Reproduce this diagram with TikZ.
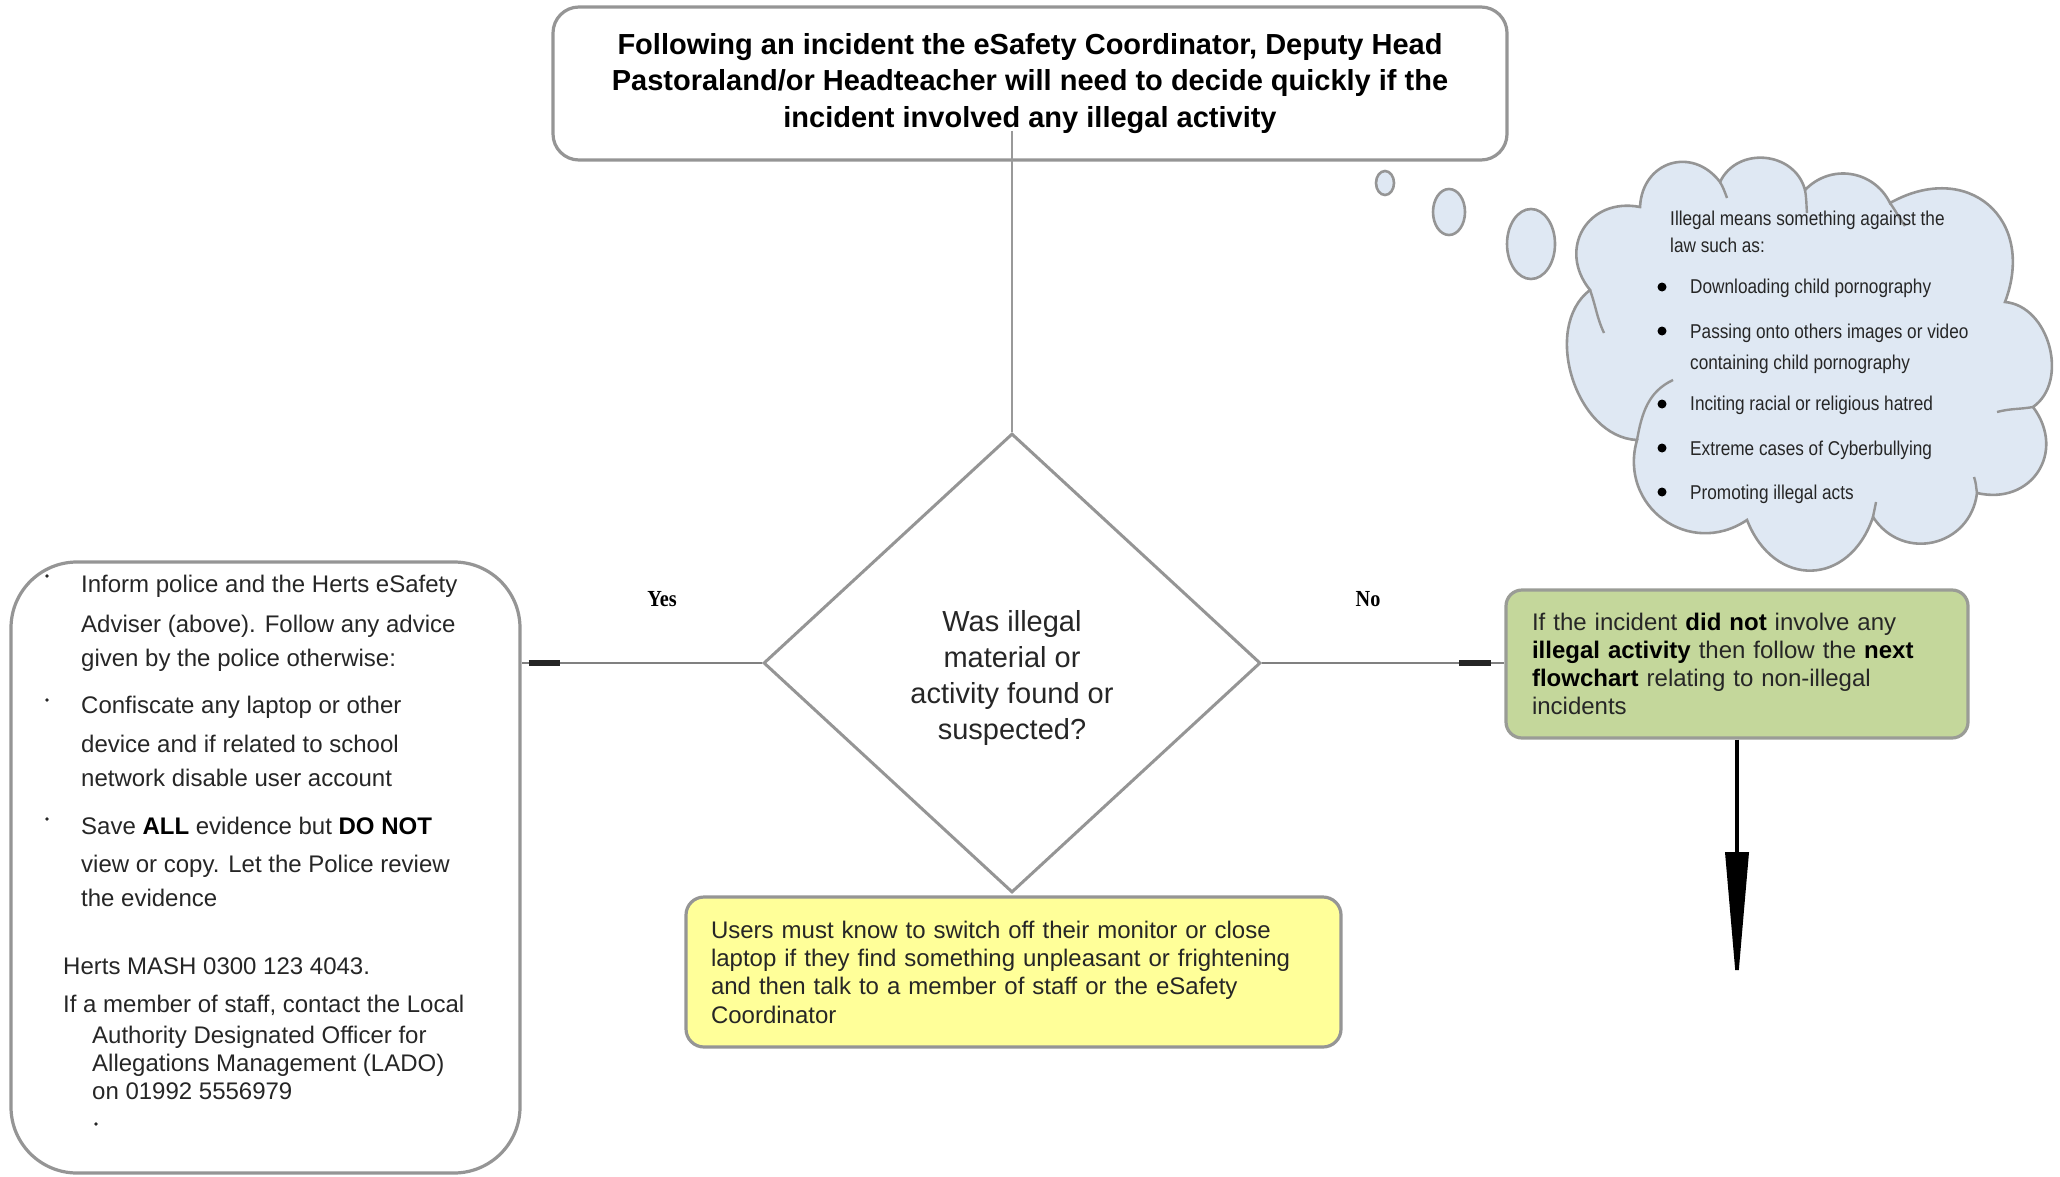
\documentclass[tikz,border=0pt]{standalone}
\usepackage{fontspec}
\setmainfont{Liberation Sans}
\newfontfamily\serifbold[FakeStretch=0.88]{Liberation Serif}
\newfontfamily\narrowfont[FakeStretch=0.86]{Liberation Sans}
\usetikzlibrary{shapes.geometric,arrows.meta,calc}
\definecolor{bordergray}{HTML}{959595}
\definecolor{linegray}{HTML}{808080}
\definecolor{textdark}{HTML}{262626}
\definecolor{cloudblue}{HTML}{DFE8F3}
\definecolor{notegreen}{HTML}{C4D79B}
\definecolor{noteyellow}{HTML}{FFFF99}
\tikzset{
  boxbase/.style={draw=bordergray, line width=3.2pt, rectangle},
  lefttext/.style={anchor=base west, inner sep=0pt, text=textdark, font=\fontsize{24}{28}\selectfont},
  cloudtext/.style={anchor=base west, inner sep=0pt, text=textdark, font=\narrowfont\fontsize{20}{24}\selectfont},
  branchlabel/.style={inner sep=0pt, font=\serifbold\bfseries\fontsize{23}{26}\selectfont},
  connline/.style={draw=linegray, line width=2.6pt},
  markseg/.style={draw=black!85, line width=6pt},
  bubble/.style={draw=bordergray, line width=2.6pt, fill=cloudblue, ellipse, inner sep=0pt},
  puff/.style={bend left=70, looseness=#1},
  innerarc/.style={draw=bordergray, line width=2.4pt},
}
\begin{document}
\begin{tikzpicture}[x=1pt,y=-1pt]
\useasboundingbox (0,0) rectangle (2060,1177);

% top box
\node[boxbase, rounded corners=26pt, minimum width=954pt, minimum height=153pt, align=center,
      font=\bfseries\fontsize{29}{36.5}\selectfont, text=black] (top) at (1030,83.5)
  {Following an incident the eSafety Coordinator, Deputy Head\\
   Pastoraland/or Headteacher will need to decide quickly if the\\
   incident involved any illegal activity};

% diamond
\node[diamond, draw=bordergray, line width=3pt, minimum width=497pt, minimum height=459pt, inner sep=0pt] (dia) at (1012,663) {};
\node[align=center, inner sep=0pt, text=textdark, font=\fontsize{29}{36}\selectfont] (diatext) at (1012,678)
  {Was illegal\\ material or\\ activity found or\\ suspected?};

\coordinate (topstart) at (1012,131);
\draw[draw=linegray!80, line width=1.2pt] (topstart) -- (dia.north);

% left box
\node[boxbase, rounded corners=66pt, minimum width=509pt, minimum height=611pt, fill=white] (leftbox) at (265.5,867.5) {};
\fill[textdark] (47,576) circle (1.8);
\fill[textdark] (47,700) circle (1.8);
\fill[textdark] (47,819) circle (1.8);
\node[lefttext] (l1) at (81,592) {Inform police and the Herts eSafety};
\node[lefttext] (l2) at (81,632) {Adviser (above). Follow any advice};
\node[lefttext] (l3) at (81,666) {given by the police otherwise:};
\node[lefttext] (l4) at (81,713) {Confiscate any laptop or other};
\node[lefttext] (l5) at (81,752) {device and if related to school};
\node[lefttext] (l6) at (81,786) {network disable user account};
\node[lefttext] (l7) at (81,834) {Save \textbf{\color{black}ALL} evidence but \textbf{\color{black}DO NOT}};
\node[lefttext] (l8) at (81,872) {view or copy. Let the Police review};
\node[lefttext] (l9) at (81,906) {the evidence};
\node[lefttext] (l10) at (63,974) {Herts MASH 0300 123 4043.};
\node[lefttext] (l11) at (63,1012) {If a member of staff, contact the Local};
\node[lefttext] (l12) at (92,1043) {Authority Designated Officer for};
\node[lefttext] (l13) at (92,1071) {Allegations Management (LADO)};
\node[lefttext] (l14) at (92,1099) {on 01992 5556979};
\fill[textdark] (96,1124) circle (1.8);

% green box
\node[boxbase, draw=bordergray!90!notegreen, fill=notegreen, rounded corners=16pt, minimum width=462pt, minimum height=148pt,
      text width=410pt, inner xsep=26pt, align=left, text=textdark, font=\fontsize{24}{28}\selectfont] (green) at (1737,664)
  {If the incident \textbf{\color{black}did not} involve any\\
   \textbf{\color{black}illegal activity} then follow the \textbf{\color{black}next}\\
   \textbf{\color{black}flowchart} relating to non-illegal\\
   incidents};

% yellow box
\node[boxbase, fill=noteyellow, rounded corners=18pt, minimum width=655pt, minimum height=150pt,
      text width=605pt, inner xsep=25pt, align=left, text=textdark, font=\fontsize{24}{28.3}\selectfont] (yellow) at (1013.5,972)
  {Users must know to switch off their monitor or close\\
   laptop if they find something unpleasant or frightening\\
   and then talk to a member of staff or the eSafety\\
   Coordinator};

% connectors
\draw[connline] (dia.west) -- (dia.west -| leftbox.east);
\draw[markseg] ($(dia.west -| leftbox.east)+(7,0)$) -- ++(31,0);
\draw[connline] (dia.east) -- (dia.east -| green.west);
\draw[markseg] ($(dia.east -| green.west)+(-45,0)$) -- ++(32,0);
\node[branchlabel] (yes) at (662,599) {Yes};
\node[branchlabel] (no) at (1368,599) {No};

\coordinate (nextflow) at (1737,992);
\draw[black, line width=3.6pt, -{Triangle[length=140pt,width=23pt]}] (green.south) -- (nextflow);

% thought bubbles
\node[bubble, minimum width=18pt, minimum height=24pt] (b1) at (1385,183) {};
\node[bubble, minimum width=32pt, minimum height=46pt] (b2) at (1449,212) {};
\node[bubble, minimum width=48pt, minimum height=70pt] (b3) at (1531,244) {};

% cloud
\path[draw=bordergray, line width=2.6pt, fill=cloudblue]
  (1590,290) to[puff=1.4] (1640,207) to[puff=1.4] (1720,182) to[puff=1.2] (1805,190)
  to[bend left=55, looseness=1.1] (1890,203) to[puff=1.5] (2005,302) to[puff=1.05] (2033,407)
  to[puff=1.4] (1977,493) to[puff=1.3] (1873,517) to[puff=1.5] (1747,520)
  to[puff=1.3] (1637,440) to[puff=1.0] (1590,290) -- cycle;
\draw[innerarc] (1590,290) to[out=-70, in=115] (1604,333);
\draw[innerarc] (1637,440) to[out=80, in=205] (1673,380);
\draw[innerarc] (1720,182) to[out=-60, in=110] (1727,198);
\draw[innerarc] (1805,190) to[out=-80, in=95] (1807,213);
\draw[innerarc] (1890,203) to[out=-55, in=125] (1905,226);
\draw[innerarc] (2033,407) to[out=190, in=15] (1997,412);
\draw[innerarc] (1977,493) to[out=100, in=-70] (1974,477);
\draw[innerarc] (1873,517) to[out=80, in=-100] (1876,502);
\node[cloudtext] (c1) at (1670,225) {Illegal means something against the};
\node[cloudtext] (c2) at (1670,252) {law such as:};
\node[cloudtext] (c3) at (1690,293) {Downloading child pornography};
\node[cloudtext] (c4) at (1690,338) {Passing onto others images or video};
\node[cloudtext] (c5) at (1690,369) {containing child pornography};
\node[cloudtext] (c6) at (1690,410) {Inciting racial or religious hatred};
\node[cloudtext] (c7) at (1690,455) {Extreme cases of Cyberbullying};
\node[cloudtext] (c8) at (1690,499) {Promoting illegal acts};
\fill[black] (1662,287) circle (4.5);
\fill[black] (1662,331) circle (4.5);
\fill[black] (1662,404) circle (4.5);
\fill[black] (1662,448) circle (4.5);
\fill[black] (1662,492) circle (4.5);
\end{tikzpicture}
\end{document}
